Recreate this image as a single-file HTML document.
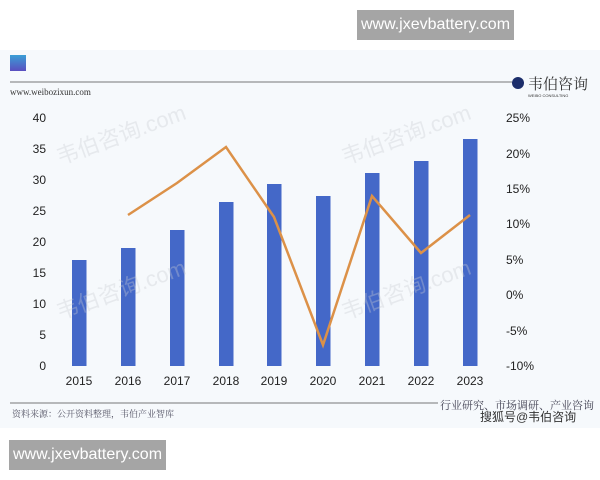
<!DOCTYPE html>
<html><head><meta charset="utf-8"><style>
body{margin:0;width:600px;height:480px;background:#fff;overflow:hidden;position:relative;font-family:"Liberation Sans","Noto Sans CJK SC",sans-serif}
.wm{position:absolute;background:#a5a5a5;color:#fff;font-size:16px;line-height:30px;text-align:center}
</style></head><body>
<div style="position:absolute;left:0;top:50px;width:600px;height:378px;background:#f6f9fc"></div>
<div class="wm" style="left:357px;top:10px;width:157px;height:30px">www.jxevbattery.com</div>
<div class="wm" style="left:9px;top:440px;width:157px;height:30px">www.jxevbattery.com</div>
<svg width="600" height="480" style="position:absolute;left:0;top:0">
<defs><linearGradient id="g" x1="0" y1="0" x2="0" y2="1"><stop offset="0" stop-color="#3a9fd6"/><stop offset="1" stop-color="#5a4fc0"/></linearGradient></defs>
<rect x="10" y="55" width="16" height="16" fill="url(#g)"/>
<line x1="10" y1="82" x2="512" y2="82" stroke="#777" stroke-width="1"/>
<circle cx="518" cy="83" r="6" fill="#1c2e6b"/>
<text x="528" y="89" font-size="15" fill="#333" font-family="Noto Serif CJK SC,serif">韦伯咨询</text>
<text x="528" y="97" font-size="4" fill="#333">WEIBO CONSULTING</text>
<text x="10" y="95" font-size="9" fill="#333" font-family="Liberation Serif,serif">www.weibozixun.com</text>
<g font-size="12" fill="#222" text-anchor="end">
<text x="46" y="122">40</text><text x="46" y="153">35</text><text x="46" y="184">30</text><text x="46" y="215">25</text><text x="46" y="246">20</text><text x="46" y="277">15</text><text x="46" y="308">10</text><text x="46" y="339">5</text><text x="46" y="370">0</text>
</g>
<g font-size="12" fill="#222">
<text x="506" y="122">25%</text><text x="506" y="158">20%</text><text x="506" y="193">15%</text><text x="506" y="228">10%</text><text x="506" y="264">5%</text><text x="506" y="299">0%</text><text x="506" y="335">-5%</text><text x="506" y="370">-10%</text>
</g>
<g fill="#4468c8">
<rect x="72" y="260" width="14.5" height="106"/>
<rect x="121" y="248" width="14.5" height="118"/>
<rect x="170" y="230" width="14.5" height="136"/>
<rect x="219" y="202" width="14.5" height="164"/>
<rect x="267" y="184" width="14.5" height="182"/>
<rect x="316" y="196" width="14.5" height="170"/>
<rect x="365" y="173" width="14.5" height="193"/>
<rect x="414" y="161" width="14.5" height="205"/>
<rect x="463" y="139" width="14.5" height="227"/>
</g>
<polyline points="128,215 177,183 226,147 274,217 323,345 372,196 421,253 470,215" fill="none" stroke="#dc9148" stroke-width="2.5"/>
<g font-size="12" fill="#222" text-anchor="middle">
<text x="79" y="385">2015</text><text x="128" y="385">2016</text><text x="177" y="385">2017</text><text x="226" y="385">2018</text><text x="274" y="385">2019</text><text x="323" y="385">2020</text><text x="372" y="385">2021</text><text x="421" y="385">2022</text><text x="470" y="385">2023</text>
</g>
<g font-size="22" fill="#c9ccd2" opacity="0.35">
<text transform="translate(60,165) rotate(-20)">韦伯咨询.com</text>
<text transform="translate(345,165) rotate(-20)">韦伯咨询.com</text>
<text transform="translate(60,320) rotate(-20)">韦伯咨询.com</text>
<text transform="translate(345,320) rotate(-20)">韦伯咨询.com</text>
</g>
<line x1="10" y1="403" x2="438" y2="403" stroke="#777" stroke-width="1"/>
<text x="12" y="417" font-size="9" fill="#556" font-family="Noto Serif CJK SC,serif">资料来源：公开资料整理，韦伯产业智库</text>
<text x="440" y="409" font-size="11" fill="#445" font-family="Noto Serif CJK SC,serif">行业研究、市场调研、产业咨询</text>
<text x="480" y="421" font-size="12" fill="#333">搜狐号@韦伯咨询</text>
</svg>
</body></html>
